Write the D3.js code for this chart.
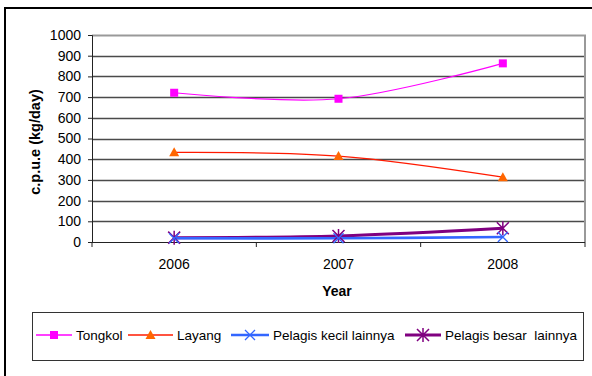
<!DOCTYPE html>
<html><head><meta charset="utf-8">
<script src="https://cdn.jsdelivr.net/npm/d3@7"></script>
<style>body{margin:0;background:#fff}svg{display:block;font-family:"Liberation Sans",Arial,sans-serif}</style>
</head><body>
<svg id="c" width="592" height="376"></svg>
<script>
const years = ["2006", "2007", "2008"];
const seriesNames = ["Tongkol", "Layang", "Pelagis kecil lainnya", "Pelagis besar  lainnya"];
const tongkol = [721, 692, 863];
const layang = [433, 415, 313];
const pelagisKecil = [18, 18, 24];
const pelagisBesar = [21, 29, 66];
const yTicks = [0, 100, 200, 300, 400, 500, 600, 700, 800, 900, 1000];
const yTitle = "c.p.u.e (kg/day)";
const xTitle = "Year";

const styles = [
  {line:"#FF00FF", width:1.2, marker:"square", mcolor:"#FF00FF"},
  {line:"#FF1A00", width:1.2, marker:"triangle", mcolor:"#FF6600"},
  {line:"#3366FF", width:2.6, marker:"x", mcolor:"#3366FF"},
  {line:"#800080", width:3, marker:"star", mcolor:"#800080"}
];
const allSeries = [tongkol, layang, pelagisKecil, pelagisBesar];

const svg = d3.select("#c");
const FF = "Liberation Sans, Arial, sans-serif";
const L = 92, R = 585, T = 35, B = 242;
const x = d3.scalePoint().domain(years).range([L, R]).padding(0.5);
const y = d3.scaleLinear().domain([0, 1000]).range([B, T]);

// outer border
svg.append("rect").attr("x",5).attr("y",8).attr("width",620).attr("height",420)
  .attr("fill","none").attr("stroke","#000").attr("stroke-width",2);

// gridlines
svg.append("g").selectAll("line").data(yTicks.filter(d=>d>0 && d<1000)).join("line")
  .attr("x1",L).attr("x2",R).attr("y1",d=>Math.round(y(d))+0.5).attr("y2",d=>Math.round(y(d))+0.5)
  .attr("stroke","#4a4a4a").attr("stroke-width",1.3);
// plot border top/right
svg.append("path").attr("d",`M${L},${T+0.5}H${R}V${B}`).attr("fill","none").attr("stroke","#999").attr("stroke-width",2);

// y axis
const yAxis = d3.axisLeft(y).tickValues(yTicks).tickFormat(d3.format("d")).tickSize(4).tickPadding(7);
const gy = svg.append("g").attr("transform",`translate(${L},0)`).call(yAxis);
gy.attr("font-family",FF).attr("font-size",14);
gy.select(".domain").attr("stroke","#222");
gy.selectAll(".tick line").attr("stroke","#222");
gy.selectAll("text").attr("fill","#000");

// x axis
const gx = svg.append("g").attr("transform",`translate(0,${B})`);
gx.append("line").attr("x1",L).attr("x2",R).attr("y1",0.5).attr("y2",0.5).attr("stroke","#222").attr("stroke-width",1.2);
const step = x.step();
const bounds = d3.range(years.length+1).map(i => L + i*step);
gx.selectAll("line.tk").data(bounds).join("line").attr("class","tk")
  .attr("x1",d=>d).attr("x2",d=>d).attr("y1",0).attr("y2",5).attr("stroke","#222");
gx.selectAll("text").data(years).join("text")
  .attr("x",d=>x(d)).attr("y",27).attr("text-anchor","middle").attr("font-size",14).text(d=>d);

// titles
svg.append("text").attr("x",337).attr("y",296).attr("text-anchor","middle")
  .attr("font-size",14).attr("font-weight","bold").text(xTitle);
svg.append("text").attr("transform","translate(40,142) rotate(-90)").attr("text-anchor","middle")
  .attr("font-size",14.5).attr("font-weight","bold").text(yTitle);

function drawMarker(g, type, cx, cy, color, s){
  if(type==="square"){
    g.append("rect").attr("x",cx-4).attr("y",cy-4).attr("width",8).attr("height",8).attr("fill",color);
  } else if(type==="triangle"){
    g.append("path").attr("d",`M${cx},${cy-5}L${cx+5},${cy+4}L${cx-5},${cy+4}Z`).attr("fill",color);
  } else if(type==="x"){
    g.append("path").attr("d",`M${cx-5},${cy-5}L${cx+5},${cy+5}M${cx-5},${cy+5}L${cx+5},${cy-5}`)
      .attr("stroke",color).attr("stroke-width",1.3);
  } else {
    g.append("path").attr("d",`M${cx-6},${cy-6}L${cx+6},${cy+6}M${cx-6},${cy+6}L${cx+6},${cy-6}M${cx},${cy-7}V${cy+7}`)
      .attr("stroke",color).attr("stroke-width",1.5);
  }
}

const line = d3.line().x((d,i)=>x(years[i])).y(d=>y(d)).curve(d3.curveCardinal.tension(0));
const order = [0,1,3,2];
order.forEach(si=>{
  const st = styles[si];
  svg.append("path").datum(allSeries[si]).attr("d",line).attr("fill","none")
    .attr("stroke",st.line).attr("stroke-width",st.width);
});
order.forEach(si=>{
  const st = styles[si];
  const g = svg.append("g");
  allSeries[si].forEach((v,i)=>drawMarker(g, st.marker, x(years[i]), y(v), st.mcolor));
});

// legend
svg.append("rect").attr("x",32.5).attr("y",312.5).attr("width",551).attr("height",48)
  .attr("fill","#fff").attr("stroke","#333").attr("stroke-width",1);
const legX = [[36,72,76],[128,173,177],[231,269,273],[405,441,445]];
seriesNames.forEach((n,i)=>{
  const st = styles[i];
  const [a,b,t] = legX[i];
  const cy = 335;
  svg.append("line").attr("x1",a).attr("x2",b).attr("y1",cy).attr("y2",cy)
    .attr("stroke",st.line).attr("stroke-width",Math.max(1.5,st.width));
  drawMarker(svg.append("g"), st.marker, (a+b)/2, cy, st.mcolor);
  svg.append("text").attr("x",t).attr("y",cy+5).attr("font-size",13.5)
    .style("white-space","pre").text(n);
});
</script>
</body></html>
